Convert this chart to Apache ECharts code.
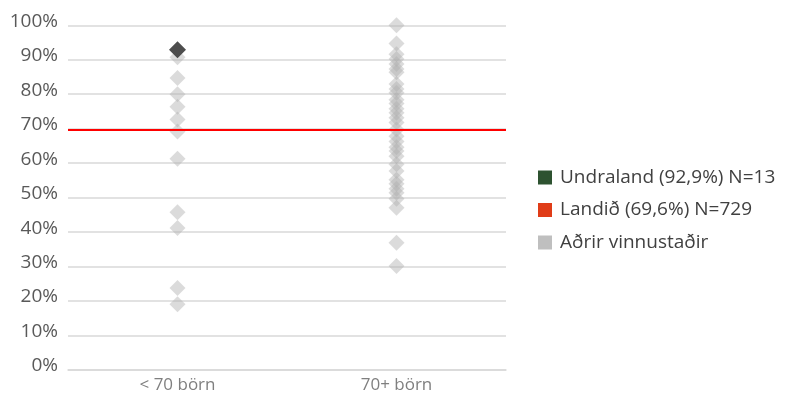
<!DOCTYPE html>
<html><head><meta charset="utf-8">
<script src="https://cdn.jsdelivr.net/npm/echarts@6/dist/echarts.min.js"></script>
<style>html,body{margin:0;padding:0;background:#fff}#c{width:787px;height:394px}</style>
</head><body><div id="c"></div>
<script>
const categories = ['< 70 börn', '70+ börn'];
const yTicks = [0,10,20,30,40,50,60,70,80,90,100];
const undralandName = 'Undraland (92,9%) N=13';
const undralandCategory = '< 70 börn';
const undralandValue = 92.9;
const landidName = 'Landið (69,6%) N=729';
const landidValue = 69.6;
const otherName = 'Aðrir vinnustaðir';
const otherLow = [90.7, 84.7, 80.0, 76.4, 72.7, 69.2, 61.3, 45.8, 41.2, 23.8, 19.1];
const otherHigh = [100, 94.7, 91.6, 90.2, 88.8, 87.3, 86.4, 83.0, 81.5, 80.4, 78.4, 77.3, 75.8, 74.6, 73.2, 71.8, 69.8, 67.8, 66.3, 64.6, 63.5, 62.0, 59.7, 57.7, 55.2, 54.0, 52.6, 51.4, 49.7, 47.1, 36.9, 30.2];

const otherData = otherLow.map(v => [categories[0], v]).concat(otherHigh.map(v => [categories[1], v]));
const font = '"Open Sans", Lato, sans-serif';
const chart = echarts.init(document.getElementById('c'));
chart.setOption({
  animation: false,
  grid: {left: 68, right: 281, top: 25.3, bottom: 19.5},
  legend: {
    orient: 'vertical', left: 538, top: 168, padding: 0,
    itemWidth: 14, itemHeight: 14, itemGap: 13.5, icon: 'rect',
    textStyle: {fontFamily: font, fontSize: 19, lineHeight: 18, color: '#404040', padding: [0, 0, 0, 3]},
    data: [
      {name: undralandName, itemStyle: {color: '#2d5230', opacity: 1}},
      {name: landidName, itemStyle: {color: '#e03c18', opacity: 1}},
      {name: otherName, itemStyle: {color: '#bfbfbf', opacity: 1}}
    ]
  },
  xAxis: {
    type: 'category', data: categories, boundaryGap: true,
    axisLine: {lineStyle: {color: '#d9d9d9', width: 1.5}},
    axisTick: {show: false},
    axisLabel: {fontFamily: font, fontSize: 17, color: '#7f7f7f', margin: 7}
  },
  yAxis: {
    type: 'value', min: 0, max: 100, interval: 10,
    axisLine: {show: false}, axisTick: {show: false},
    splitLine: {lineStyle: {color: '#d9d9d9', width: 1.5}},
    axisLabel: {margin: 10,
      formatter: v => yTicks.includes(v) ? '{t|' + v + '%}' : '',
      rich: {t: {fontFamily: font, fontSize: 19, color: '#595959', padding: [0, 0, 8, 0]}}}
  },
  series: [
    {
      name: landidName, type: 'scatter', data: [], z: 1,
      itemStyle: {color: '#e03c18'},
      markLine: {
        symbol: 'none', silent: true, label: {show: false},
        lineStyle: {color: '#ff0000', width: 2, type: 'solid'},
        data: [{yAxis: landidValue}]
      }
    },
    {
      name: otherName, type: 'scatter', symbol: 'diamond', symbolSize: 16, z: 2,
      itemStyle: {color: '#b0b0b0', opacity: 0.45},
      data: otherData
    },
    {
      name: undralandName, type: 'scatter', symbol: 'diamond', symbolSize: 17, z: 3,
      itemStyle: {color: '#4d4d4d', opacity: 1},
      data: [[undralandCategory, undralandValue]]
    }
  ]
});
</script></body></html>
